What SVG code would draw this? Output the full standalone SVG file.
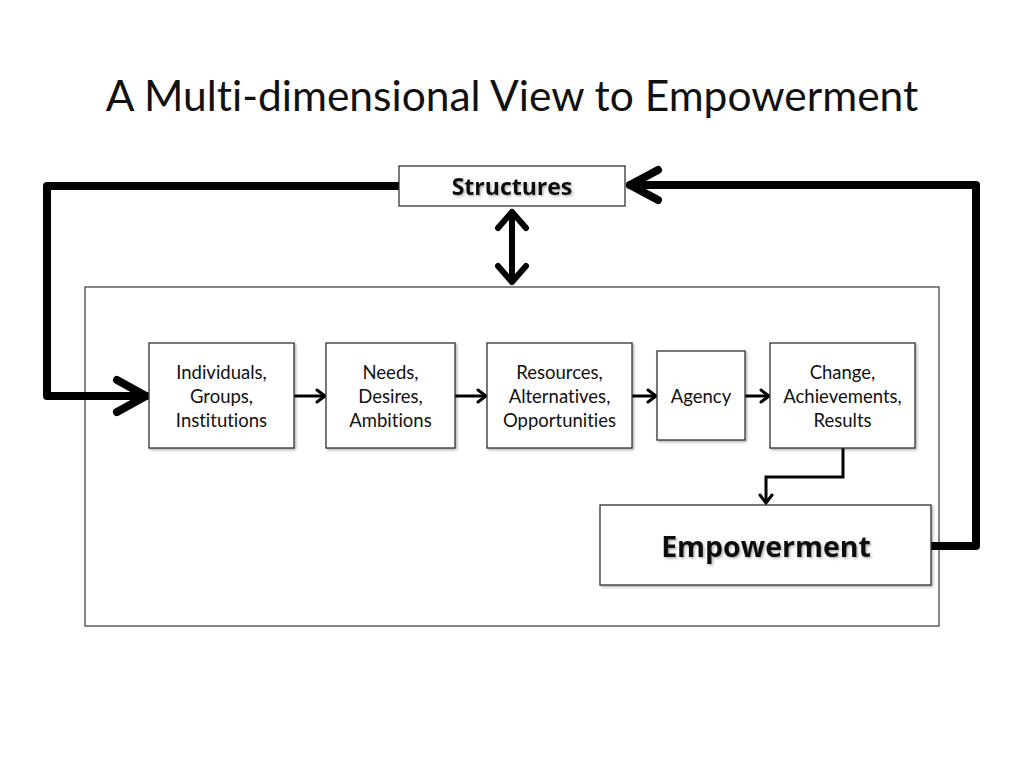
<svg xmlns="http://www.w3.org/2000/svg" width="1024" height="768" viewBox="0 0 1024 768">
<defs>
<filter id="sh" x="-10%" y="-10%" width="130%" height="140%">
<feDropShadow dx="1.5" dy="1.5" stdDeviation="1.2" flood-color="#000" flood-opacity="0.3"/>
</filter>
<marker id="sm" markerUnits="userSpaceOnUse" markerWidth="14" markerHeight="16" refX="11" refY="8" orient="auto">
<path d="M3,2 L11,8 L3,14" fill="none" stroke="#000" stroke-width="3" stroke-linecap="round" stroke-linejoin="miter"/>
</marker>
</defs>
<style>
text{font-variant-ligatures:none}
.box{fill:#fff;stroke:#333;stroke-width:1.3}
.t{font-family:Lato,"Open Sans","Liberation Sans",sans-serif;font-size:18.5px;fill:#111;text-anchor:middle}
.b{font-family:"Open Sans",Lato,"Liberation Sans",sans-serif;font-weight:bold;fill:#111;text-anchor:middle}
.thick{fill:none;stroke:#000;stroke-width:8;stroke-linecap:round;stroke-linejoin:round}
.thin{fill:none;stroke:#000;stroke-width:3;marker-end:url(#sm)}
.ts{filter:url(#sh)}
</style>
<rect width="1024" height="768" fill="#fff"/>
<text x="512" y="111" font-family="Lato,'Open Sans','Liberation Sans',sans-serif" font-size="42.5" text-anchor="middle" fill="#111">A Multi-dimensional View to Empowerment</text>

<g id="container"><rect x="85" y="287" width="854" height="339" class="box" style="stroke:#444"/></g>

<g id="connectors">
<path class="thick" d="M399,186 H47 V396 H146"/>
<path class="thick" d="M117,380 L146,396 L117,412"/>
<path class="thick" d="M931,546 H976 V185 H630"/>
<path class="thick" d="M658,170 L630,185 L658,200"/>
<path fill="none" stroke="#000" stroke-width="6" stroke-linecap="round" stroke-linejoin="round" d="M512,212 V282 M498,228 L512,212 L526,228 M498,266 L512,282 L526,266"/>
<path class="thin" d="M294,396 H325"/>
<path class="thin" d="M455,396 H486"/>
<path class="thin" d="M632,396 H656"/>
<path class="thin" d="M745,396 H769"/>
<path class="thin" d="M843,448 V477 H766 V503"/>
</g>

<g id="structures">
<rect x="399" y="166" width="226" height="40" class="box"/>
<text x="512" y="195" class="b ts" font-size="23">Structures</text>
</g>
<g id="n1">
<rect x="149" y="343" width="145" height="105" class="box" filter="url(#sh)"/>
<text class="t" x="221.5" y="379">Individuals,</text>
<text class="t" x="221.5" y="403">Groups,</text>
<text class="t" x="221.5" y="427">Institutions</text>
</g>
<g id="n2">
<rect x="326" y="343" width="129" height="105" class="box" filter="url(#sh)"/>
<text class="t" x="390.5" y="379">Needs,</text>
<text class="t" x="390.5" y="403">Desires,</text>
<text class="t" x="390.5" y="427">Ambitions</text>
</g>
<g id="n3">
<rect x="487" y="343" width="145" height="105" class="box" filter="url(#sh)"/>
<text class="t" x="559.5" y="379">Resources,</text>
<text class="t" x="559.5" y="403">Alternatives,</text>
<text class="t" x="559.5" y="427">Opportunities</text>
</g>
<g id="n4">
<rect x="657" y="351" width="88" height="89" class="box" filter="url(#sh)"/>
<text class="t" x="701" y="403">Agency</text>
</g>
<g id="n5">
<rect x="770" y="343" width="145" height="105" class="box" filter="url(#sh)"/>
<text class="t" x="842.5" y="379">Change,</text>
<text class="t" x="842.5" y="403">Achievements,</text>
<text class="t" x="842.5" y="427">Results</text>
</g>
<g id="empowerment">
<rect x="600" y="505" width="331" height="80" class="box" filter="url(#sh)"/>
<text x="766" y="557" class="b ts" font-size="28.5">Empowerment</text>
</g>
</svg>
